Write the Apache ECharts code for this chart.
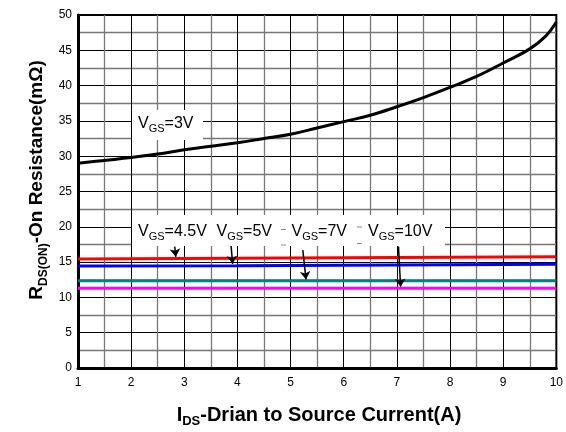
<!DOCTYPE html>
<html><head><meta charset="utf-8">
<script src="https://cdn.jsdelivr.net/npm/echarts@6/dist/echarts.min.js"></script>
<style>html,body{margin:0;padding:0;background:#fff}#c{width:566px;height:432px}</style>
</head><body><div id="c"></div>
<script>
// ---- data ----
const x3 = [1,1.5,2,2.5,3,3.5,4,4.5,5,5.5,6,6.5,7,7.5,8,8.5,9,9.5,9.8,10];
const y3 = [29.0,29.4,29.8,30.3,30.9,31.4,31.9,32.5,33.1,34.0,34.9,35.8,37.0,38.3,39.75,41.3,43.2,45.2,47.0,49.0];
const xFlat = [1,4,7,10];
const y45 = [15.45,15.55,15.65,15.75];
const y5 = [14.45,14.5,14.6,14.7];
const y7 = [12.35,12.35,12.35,12.35];
const y10 = [11.3,11.3,11.3,11.3];
// arrow [start, end] in data coords
const arrow45 = [[2.82,17.2],[2.84,15.75]];
const arrow5 = [[3.88,17.3],[3.91,14.75]];
const arrow7 = [[5.23,16.7],[5.29,12.55]];
const arrow10 = [[7.03,17.2],[7.07,11.5]];
const labels = ['3V','4.5V','5V','7V','10V'];

const FONT = '"Liberation Sans", Arial, sans-serif';
function pairs(xs, ys){ return xs.map((x,i)=>[x, ys[i]]); }
function arrowLine(a){
  return {
    silent:true, symbol:['none','arrow'], symbolSize:8,
    lineStyle:{color:'#000', width:1.5, type:'solid'},
    label:{show:false},
    data:[[{coord:a[0]},{coord:a[1]}]]
  };
}
function mkSeries(name, xs, ys, color, arr){
  const s = {name, type:'line', data:pairs(xs,ys), showSymbol:false, symbol:'none',
    lineStyle:{color, width:3}, z:3};
  if (arr) s.markLine = arrowLine(arr);
  return s;
}
const chart = echarts.init(document.getElementById('c'), null, {renderer:'canvas'});
const subRich = {
  m:{fontSize:16, fontFamily:FONT, color:'#000', lineHeight:22, verticalAlign:'middle'},
  s:{fontSize:11, fontFamily:FONT, color:'#000', lineHeight:6, verticalAlign:'bottom'}
};
function vgsText(v, x, y){
  return {type:'text', x:x, y:y, z:20, style:{text:'{m|V}{s|GS}{m|=' + v + '}', rich:subRich, align:'left', verticalAlign:'middle'}};
}
function dash(x, y){
  return {type:'line', z:20, shape:{x1:x, y1:y, x2:x+5, y2:y}, style:{stroke:'#888', lineWidth:1}};
}
chart.setOption({
  animation:false,
  backgroundColor:'#fff',
  grid:{left:78, right:8, top:15, bottom:64, show:true, borderColor:'#000', borderWidth:2, backgroundColor:'transparent'},
  xAxis:{type:'value', min:1, max:10, interval:1,
    axisLine:{show:true, onZero:false, lineStyle:{color:'#000', width:3}},
    axisTick:{show:false},
    axisLabel:{color:'#000', fontSize:12, fontFamily:FONT, margin:9},
    splitLine:{show:true, lineStyle:{color:'#000', width:1}},
    minorTick:{show:false, splitNumber:2},
    minorSplitLine:{show:true, lineStyle:{color:'#777', width:1.3}}
  },
  yAxis:{type:'value', min:0, max:50, interval:5,
    axisLine:{show:true, lineStyle:{color:'#000', width:3}},
    axisTick:{show:false},
    axisLabel:{color:'#000', fontSize:12, fontFamily:FONT, margin:6},
    splitLine:{show:true, lineStyle:{color:'#000', width:1}},
    minorTick:{show:false, splitNumber:2},
    minorSplitLine:{show:true, lineStyle:{color:'#777', width:1.3}}
  },
  series:[
    Object.assign(mkSeries('VGS=3V', x3, y3, '#000', null), {smooth:0.4}),
    mkSeries('VGS=4.5V', xFlat, y45, '#ff0000', arrow45),
    mkSeries('VGS=5V', xFlat, y5, '#0000ff', arrow5),
    mkSeries('VGS=7V', xFlat, y7, '#008080', arrow7),
    mkSeries('VGS=10V', xFlat, y10, '#ff00ff', arrow10)
  ],
  graphic:[
    {type:'rect', z:15, shape:{x:132, y:110, width:71, height:30}, style:{fill:'#fff'}},
    vgsText(labels[0], 138, 123.4),
    {type:'rect', z:15, shape:{x:132, y:215, width:313, height:31}, style:{fill:'#fff'}},
    vgsText(labels[1], 138, 231.7),
    vgsText(labels[2], 216.5, 231.7),
    vgsText(labels[3], 291.5, 231.7),
    vgsText(labels[4], 368, 231.7),
    dash(281, 229.5), dash(281, 245), dash(357, 227), dash(357, 243.5),
    {type:'text', x:37, y:180, rotation:Math.PI/2, z:20,
      style:{text:'{m|R}{s|DS(ON)}{m|-On Resistance(mΩ)}', align:'center', verticalAlign:'middle',
        rich:{m:{fontSize:19, fontWeight:'bold', fontFamily:FONT, color:'#000', lineHeight:26, verticalAlign:'middle'},
              s:{fontSize:12, fontWeight:'bold', fontFamily:FONT, color:'#000', lineHeight:6, verticalAlign:'bottom'}}}},
    {type:'text', x:319, y:415, z:20,
      style:{text:'{m|I}{s|DS}{m|-Drian to Source Current(A)}', align:'center', verticalAlign:'middle',
        rich:{m:{fontSize:20, fontWeight:'bold', fontFamily:FONT, color:'#000', lineHeight:26, verticalAlign:'middle'},
              s:{fontSize:13, fontWeight:'bold', fontFamily:FONT, color:'#000', lineHeight:6, verticalAlign:'bottom'}}}}
  ]
});
</script></body></html>
